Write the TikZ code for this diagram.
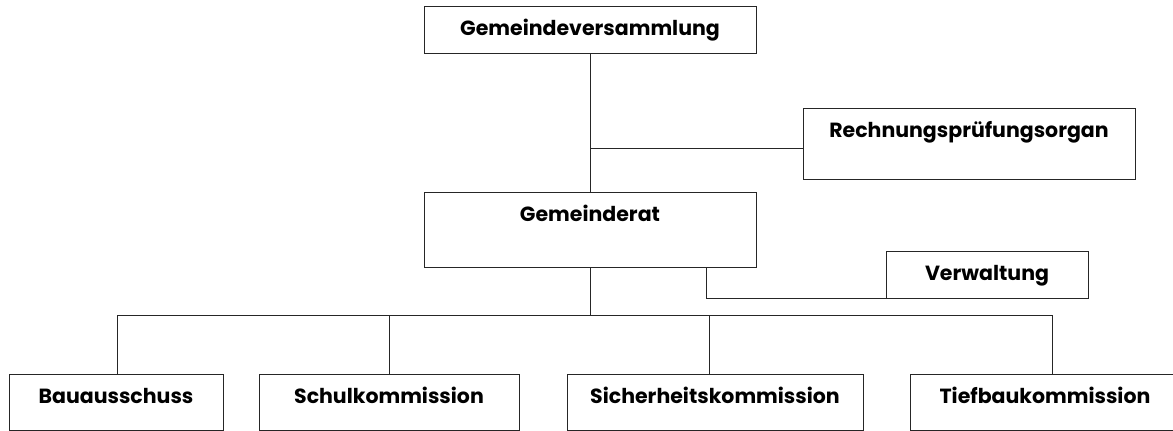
\documentclass[tikz,border=0pt]{standalone}
\usepackage{fontspec}
\setmainfont{Poppins}
\begin{document}
\begin{tikzpicture}[x=1pt,y=-1pt,
  box/.style={draw=black!85,line width=1pt,rectangle,inner xsep=0pt,inner ysep=15pt,
    text height=14pt,font=\fontsize{20.5}{24}\selectfont\bfseries,text=black},
  conn/.style={draw=black!85,line width=1pt}]
\useasboundingbox (0,0) rectangle (1173,431);
\node[box,minimum width=332pt,text depth=3pt]  (gv) at (590,29.5) {Gemeindeversammlung};
\node[box,minimum width=332pt,text depth=27pt] (rp) at (969,143.5) {Rechnungsprüfungsorgan};
\node[box,minimum width=332pt,text depth=31pt] (gr) at (590,229.5) {Gemeinderat};
\node[box,minimum width=202pt,text depth=3pt]  (vw) at (987,274.5) {Verwaltung};
\node[box,minimum width=214pt,text depth=12pt] (ba) at (116,402) {Bauausschuss};
\node[box,minimum width=260pt,text depth=12pt] (sk) at (389,402) {Schulkommission};
\node[box,minimum width=296pt,text depth=12pt] (sh) at (715,402) {Sicherheitskommission};
\node[box,minimum width=270pt,text depth=12pt] (tb) at (1045,402) {Tiefbaukommission};
\coordinate (j1) at (590,148);
\coordinate (v1) at (706,267);
\coordinate (d1) at (117,315);
\coordinate (d2) at (389,315);
\coordinate (d3) at (709,315);
\coordinate (d4) at (1052,315);
\draw[conn] (gv.south) -- (gr.north);
\draw[conn] (j1) -- (j1 -| rp.west);
\draw[conn] (v1) |- (vw.south west);
\draw[conn] (gr.south) -- (gr.south |- d1);
\draw[conn] (d1) -- (d4);
\draw[conn] (d1) -- (d1 |- ba.north);
\draw[conn] (d2) -- (d2 |- sk.north);
\draw[conn] (d3) -- (d3 |- sh.north);
\draw[conn] (d4) -- (d4 |- tb.north);
\end{tikzpicture}
\end{document}
